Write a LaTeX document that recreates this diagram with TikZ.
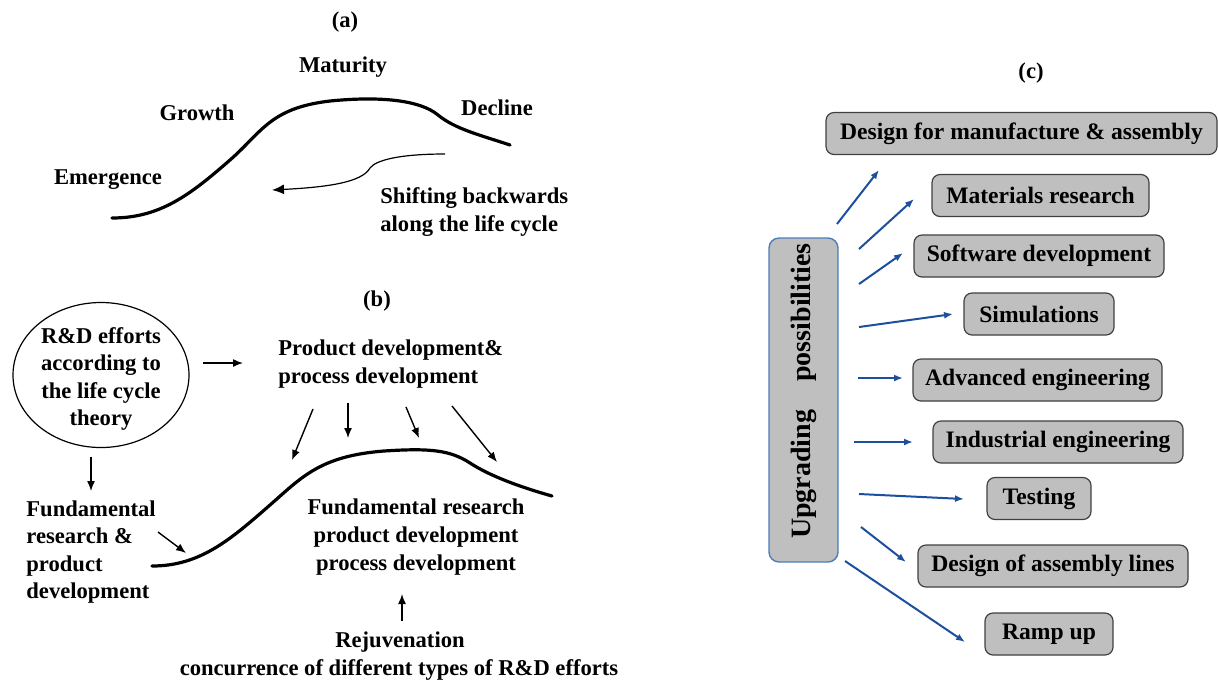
\documentclass[tikz,border=0pt]{standalone}
\usepackage{fontspec}
\setmainfont{Liberation Serif}
\usepackage{tikz}
\usetikzlibrary{arrows.meta,positioning,shapes.geometric}
\definecolor{boxgray}{HTML}{BFBFBF}
\definecolor{boxline}{HTML}{404040}
\definecolor{upgblue}{HTML}{4A7EBB}
\definecolor{arrblue}{HTML}{1C4F9C}
\tikzset{
  >=Latex,
  txt/.style={font=\fontsize{11.3}{13.8}\selectfont\bfseries, align=center, inner sep=0pt},
  lc/.style={line width=1.6pt, line cap=round},
  ar/.style={-{Latex[length=5pt,width=4pt]}, line width=0.7pt},
  upg/.style={-{Latex[length=4.5pt,width=3.5pt]}, draw=arrblue, line width=1pt}
}

\begin{document}
\begin{tikzpicture}[x=0.5pt, y=-0.5pt,
    % styles for the three panels
    optbox/.style={rectangle, draw=boxline, fill=boxgray, rounded corners=4pt, line width=0.6pt,
      inner sep=0pt, font=\fontsize{11.8}{13.8}\selectfont\bfseries},
    upbox/.style={rectangle, draw=upgblue, fill=boxgray, rounded corners=5pt, line width=0.7pt,
      inner sep=0pt, font=\fontsize{14}{16}\selectfont\bfseries},
    cyc/.style={ellipse, draw, line width=0.6pt, minimum width=88pt, minimum height=72.5pt}
]
\useasboundingbox (0,0) rectangle (1218,682);

% --- Panel (a): life cycle ---
\node[txt] (lblA) at (345,22) {(a)};
\node[txt] (mat) at (343,67) {Maturity};
\node[txt] (gro) at (197,113) {Growth};
\node[txt] (dec) at (497,108) {Decline};
\node[txt] (eme) at (108,180) {Emergence};
\node[txt, align=left, anchor=west] (shift) at (380,212) {Shifting backwards\\along the life cycle};

\draw[lc] (112,218) .. controls (160,218) and (190,195) .. (230,160)
  .. controls (262,132) and (270,108) .. (330,101)
  .. controls (380,96) and (420,100) .. (438,115)
  .. controls (455,129) and (480,135) .. (510,145);

\coordinate (shS) at (445,154);
\coordinate (shE) at (272,190);
\draw[-{Latex[length=6pt,width=5pt]}, line width=0.6pt] (shS) .. controls (400,154) and (376,160) .. (370,168)
  .. controls (362,182) and (330,187) .. (shE);

% --- Panel (b): R&D efforts ---
\node[txt] (lblB) at (377,301) {(b)};
\node[cyc] (rd) at (101,375) {};
\node[txt] (rdtxt) at (101,379) {R\&D efforts\\according to\\the life cycle\\theory};

\node[txt, align=left, anchor=west] (prod) at (278,364) {Product development\&\\process development};
\node[txt, align=left, anchor=west] (fund) at (26,552) {Fundamental\\research \&\\product\\development};
\node[txt] (fr) at (416,537) {Fundamental research\\product development\\process development};
\node[txt] (rej) at (400,642) {Rejuvenation};
\node[txt] (conc) at (399,670) {concurrence of different types of R\&D efforts};

\draw[lc] (152,566) .. controls (200,566) and (230,540) .. (270,505)
  .. controls (302,477) and (320,456) .. (384,451)
  .. controls (430,448) and (450,450) .. (470,463)
  .. controls (490,476) and (520,487) .. (552,496);

\coordinate (rdR) at (203,363);
\coordinate (prodL) at (243,363);
\draw[ar] (rdR) -- (prodL);
\coordinate (rdB) at (91,457);
\coordinate (fundT) at (91,491);
\draw[ar] (rdB) -- (fundT);
\coordinate (fundR) at (158,532);
\coordinate (cvL) at (186,553);
\draw[ar] (fundR) -- (cvL);
\coordinate (rejT) at (402,621);
\coordinate (frB) at (402,594);
\draw[ar] (rejT) -- (frB);

\foreach \i/\a/\b/\c/\d in {1/313/409/292/460, 2/348/403/348/438, 3/406/407/419/438, 4/452/406/497/462} {
    \coordinate (pd\i s) at (\a,\b);
    \coordinate (pd\i e) at (\c,\d);
    \draw[ar] (pd\i s) -- (pd\i e);
}

% --- Panel (c): upgrading possibilities ---
\node[txt] (lblC) at (1031,73) {(c)};
\node[upbox, rotate=90, minimum width=162pt, minimum height=34.5pt] (upg) at (803.5,400)
    {\hspace*{9pt}Upgrading\hspace{1em}possibilities};

\foreach \n/\x/\y/\w/\t in {
    dfm/1021.5/133.5/195.5/Design for manufacture \& assembly,
    mtr/1040.5/195.5/108.5/Materials research,
    sw/1039/256/125/Software development,
    sim/1039/314/75/Simulations,
    adv/1037.5/380/124.5/Advanced engineering,
    ind/1058/442/125/Industrial engineering,
    tst/1039/498.5/52/Testing,
    dal/1053/566/135/Design of assembly lines,
    ramp/1049/634/64/Ramp up} {
    \node[optbox, minimum width=\w pt, minimum height=21pt] (\n) at (\x,\y) {\t};
}

\foreach \i/\a/\b/\c/\d in {1/837/224/879/170, 2/859/249/914/199, 3/859/284/903/253,
    4/859/327/953/314, 5/858/378/903/378, 6/854/442/913/442, 7/859/494/964/499,
    8/861/527/906/562, 9/845/561/965/642} {
    \coordinate (up\i s) at (\a,\b);
    \coordinate (up\i e) at (\c,\d);
    \draw[upg] (up\i s) -- (up\i e);
}

\end{tikzpicture}
\end{document}
